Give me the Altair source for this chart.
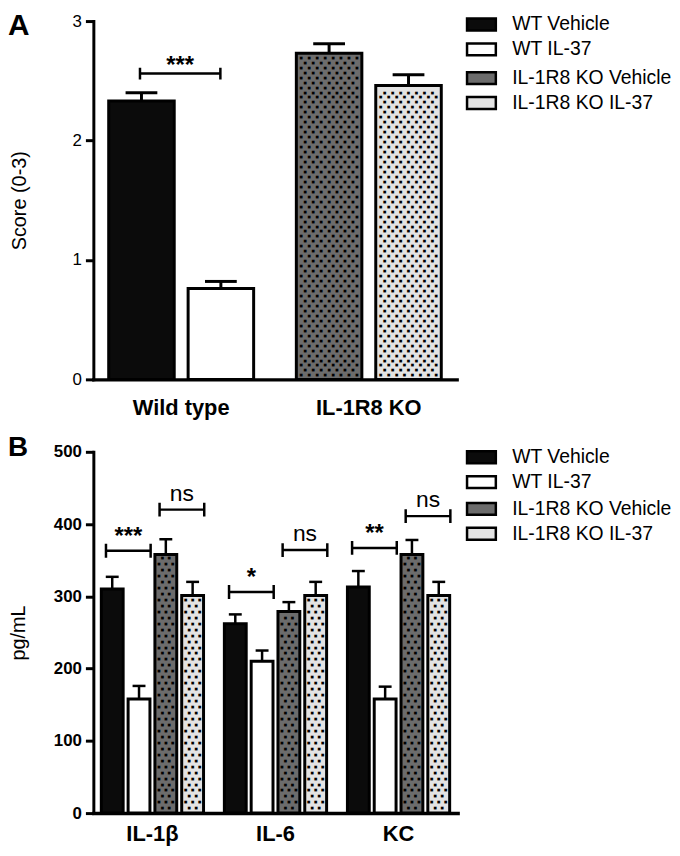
import altair as alt
import numpy as np
import pandas as pd

FONT = "Liberation Sans"
DOT_FONT = "DejaVu Sans"

# ---------------- data ----------------
series_names = ["WT Vehicle", "WT IL-37", "IL-1R8 KO Vehicle", "IL-1R8 KO IL-37"]
series_treatment = ["Vehicle", "IL-37", "Vehicle", "IL-37"]
series_colors = ["#0b0b0b", "#ffffff", "#6c6c6c", "#e3e3e3"]
treatments = ["Vehicle", "IL-37"]
panel_letters = ["A", "B"]

# Panel A: score (0-3)
a_groups = ["Wild type", "IL-1R8 KO"]
a_bar_group = ["Wild type", "Wild type", "IL-1R8 KO", "IL-1R8 KO"]
a_mean = [2.33, 0.76, 2.73, 2.46]
a_sem = [0.07, 0.06, 0.08, 0.09]
a_sig_group = ["Wild type"]
a_sig_pair = ["WT"]
a_sig_y = [2.56]
a_sig_text = ["***"]

# Panel B: pg/mL
b_groups = ["IL-1\u03b2", "IL-6", "KC"]
b_wt_vehicle = [310, 262, 313]
b_wt_vehicle_sem = [17, 13, 22]
b_wt_il37 = [158, 210, 158]
b_wt_il37_sem = [18, 15, 17]
b_ko_vehicle = [358, 279, 358]
b_ko_vehicle_sem = [21, 13, 20]
b_ko_il37 = [301, 301, 301]
b_ko_il37_sem = [19, 19, 19]
b_sig_group = ["IL-1\u03b2", "IL-1\u03b2", "IL-6", "IL-6", "KC", "KC"]
b_sig_pair = ["WT", "KO", "WT", "KO", "WT", "KO"]
b_sig_y = [363, 420, 306, 364, 367, 411]
b_sig_text = ["***", "ns", "*", "ns", "**", "ns"]

# ---------------- tables ----------------
dfA = pd.DataFrame({
    "group": a_bar_group,
    "series": series_names,
    "treat": series_treatment,
    "mean": a_mean,
    "sem": a_sem,
})
sigA = pd.DataFrame({"group": a_sig_group, "pair": a_sig_pair, "y": a_sig_y, "label": a_sig_text})

b_means = [b_wt_vehicle, b_wt_il37, b_ko_vehicle, b_ko_il37]
b_sems = [b_wt_vehicle_sem, b_wt_il37_sem, b_ko_vehicle_sem, b_ko_il37_sem]
rowsB = []
for gi, g in enumerate(b_groups):
    for si, s in enumerate(series_names):
        rowsB.append({"group": g, "series": s, "treat": series_treatment[si],
                      "mean": b_means[si][gi], "sem": b_sems[si][gi]})
dfB = pd.DataFrame(rowsB)
sigB = pd.DataFrame({"group": b_sig_group, "pair": b_sig_pair, "y": b_sig_y, "label": b_sig_text})


def legend(ly):
    return alt.Legend(
        title=None, orient="none", legendX=379.5, legendY=ly, padding=0,
        symbolType="M-1.45,-0.6H1.45V0.6H-1.45Z", symbolSize=400,
        symbolStrokeColor="black", symbolStrokeWidth=2.5, symbolOpacity=1,
        labelFont=FONT, labelFontSize=19.5, labelColor="black", labelOffset=19.5,
        labelLimit=400, rowPadding=2,
    )


def bracket_path(center_px, length_px, cap_px, r=50.0):
    # bracket glyph drawn in symbol units (1 unit = r px), offset from the band centre
    x0 = (center_px - length_px / 2) / r
    x1 = (center_px + length_px / 2) / r
    c = cap_px / r
    return (f"M{x0:.4f},{-c:.4f}V{c:.4f}M{x0:.4f},0H{x1:.4f}"
            f"M{x1:.4f},{-c:.4f}V{c:.4f}")


def panel(df, sig, letter, *, groups, x_pad, off_field, off_domain, off_pad,
          y_max, y_ticks, y_title, y_label_weight, y_title_pad, x_label_pad,
          width, height, bar_sw, err_sw, cap_size, dot_row_px, dot_cols,
          bracket_px, bracket_cap_px, sig_center, star_dy,
          ns_dy, letter_fs, letter_base, legend_y):
    px_per_unit = height / y_max
    xenc = alt.X("group:N", sort=groups, title=None,
                 scale=alt.Scale(paddingInner=x_pad[0], paddingOuter=x_pad[1]),
                 axis=alt.Axis(labelAngle=0, ticks=False, labelFont=FONT, labelFontSize=22,
                               labelFontWeight="bold", labelColor="black",
                               labelPadding=x_label_pad, domainColor="black",
                               domainWidth=3.5, domainCap="square"))
    xoff = alt.XOffset(f"{off_field}:N", sort=off_domain,
                       scale=alt.Scale(domain=off_domain, paddingInner=off_pad[0],
                                       paddingOuter=off_pad[1]))

    def yenc(field):
        return alt.Y(f"{field}:Q", scale=alt.Scale(domain=[0, y_max], nice=False),
                     axis=alt.Axis(values=y_ticks, title=y_title, grid=False,
                                   labelFont=FONT, labelFontSize=17, labelFontWeight=y_label_weight,
                                   labelColor="black", labelPadding=4,
                                   tickSize=8, tickWidth=3, tickColor="black",
                                   domainWidth=3, domainColor="black", domainCap="square",
                                   titleFont=FONT, titleFontSize=20, titleFontWeight="normal",
                                   titleColor="black", titlePadding=y_title_pad))

    base = alt.Chart(df)
    wt = base.transform_filter(
        alt.FieldOneOfPredicate(field="series", oneOf=series_names[:2])
    ).mark_bar(stroke="black", strokeWidth=bar_sw).encode(
        x=xenc, xOffset=xoff, y=yenc("mean"),
        fill=alt.Fill("series:N", sort=series_names[:2],
                      scale=alt.Scale(domain=series_names[:2], range=series_colors[:2]),
                      legend=legend(legend_y[0])))
    ko = base.transform_filter(
        alt.FieldOneOfPredicate(field="series", oneOf=series_names[2:])
    ).mark_bar(stroke="black", strokeWidth=bar_sw).encode(
        x=xenc, xOffset=xoff, y=yenc("mean"),
        fill=alt.Fill("series:N", sort=series_names[2:],
                      scale=alt.Scale(domain=series_names[2:], range=series_colors[2:]),
                      legend=legend(legend_y[1])))

    # dotted texture of the knockout bars, derived from the bar heights
    step = dot_row_px / px_per_unit
    rows = []
    for r in df.itertuples():
        if r.series in series_names[2:]:
            ys = np.arange(step * 0.8, r.mean - step * 0.45, step)
            for i, yv in enumerate(ys):
                rows.append({"group": r.group, off_field: getattr(r, off_field),
                             "y": float(yv), "parity": i % 2})
    dots_df = pd.DataFrame(rows)
    dot_layers = []
    for parity, dxs in enumerate(dot_cols):
        for dx in dxs:
            dot_layers.append(
                alt.Chart(dots_df).transform_filter(alt.datum.parity == parity)
                .mark_text(text="\u25a0", font=DOT_FONT, fontSize=3.6, color="black", dx=dx)
                .encode(x=xenc, xOffset=xoff, y=yenc("y")))

    err = base.transform_calculate(hi="datum.mean + datum.sem")
    rules = err.mark_rule(color="black", strokeWidth=err_sw).encode(
        x=xenc, xOffset=xoff, y=yenc("mean"), y2="hi:Q")
    caps = err.mark_tick(color="black", thickness=err_sw, size=cap_size, opacity=1).encode(
        x=xenc, xOffset=xoff, y=yenc("hi"))

    pairs = list(sig_center.keys())
    paths = [bracket_path(sig_center[p], bracket_px, bracket_cap_px) for p in pairs]
    brackets = alt.Chart(sig).mark_point(
        size=10000, filled=False, color="black", strokeWidth=2.5, opacity=1
    ).encode(x=xenc, y=yenc("y"),
             shape=alt.Shape("pair:N", scale=alt.Scale(domain=pairs, range=paths), legend=None))
    stars = alt.Chart(sig).transform_filter("datum.label != 'ns'").mark_text(
        baseline="alphabetic", dx=sig_center["WT"], dy=star_dy, font=FONT, fontSize=24,
        fontWeight="bold", color="black").encode(text="label:N", x=xenc, y=yenc("y"))
    ns = alt.Chart(sig).transform_filter("datum.label == 'ns'").mark_text(
        baseline="alphabetic", dx=sig_center.get("KO", 0), dy=ns_dy, font=FONT, fontSize=23,
        fontWeight="normal", color="black").encode(text="label:N", x=xenc, y=yenc("y"))

    letter_layer = alt.Chart(pd.DataFrame({"panel": [letter]})).mark_text(
        align="left", baseline="alphabetic", font=FONT, fontSize=letter_fs,
        fontWeight="bold", color="black").encode(
        text="panel:N", x=alt.value(-86), y=alt.value(letter_base))

    layers = [wt, ko] + dot_layers + [rules, caps, brackets, stars, ns, letter_layer]
    return alt.layer(*layers).properties(width=width, height=height).resolve_scale(fill="independent")


pA = panel(
    dfA, sigA, panel_letters[0], groups=a_groups, x_pad=(0.2, 0.068),
    off_field="treat", off_domain=treatments, off_pad=(0.175, 0.0325),
    y_max=3, y_ticks=[0, 1, 2, 3], y_title="Score (0-3)", y_label_weight="normal",
    y_title_pad=43, x_label_pad=18, width=366, height=361, bar_sw=3, err_sw=3,
    cap_size=32, dot_row_px=5, dot_cols=[[-28, -20, -12, -4, 4, 12, 20, 28],
                                          [-24, -16, -8, 0, 8, 16, 24]],
    bracket_px=81, bracket_cap_px=6, sig_center={"WT": -1},
    star_dy=-1, ns_dy=-9, letter_fs=30, letter_base=14, legend_y=(-8, 46))

pB = panel(
    dfB, sigB, panel_letters[1], groups=b_groups, x_pad=(0.14, 0.05),
    off_field="series", off_domain=series_names, off_pad=(0.185, 0.067),
    y_max=500, y_ticks=[0, 100, 200, 300, 400, 500], y_title="pg/mL",
    y_label_weight="bold", y_title_pad=25, x_label_pad=11, width=367, height=364,
    bar_sw=3, err_sw=2.5, cap_size=13, dot_row_px=6,
    dot_cols=[[-3.5, 3.5], [-7, 0, 7]],
    bracket_px=45, bracket_cap_px=7, sig_center={"WT": -24.3, "KO": 29.7},
    star_dy=-7, ns_dy=-9, letter_fs=28, letter_base=4, legend_y=(-6, 46))

chart = alt.vconcat(pA, pB, spacing=16).resolve_scale(
    xOffset="independent", shape="independent"
).properties(
    padding={"left": 0, "top": 0, "right": 0, "bottom": 0}
).configure_view(stroke=None)

chart.save("out.html", embed_options={"renderer": "svg", "actions": False})
